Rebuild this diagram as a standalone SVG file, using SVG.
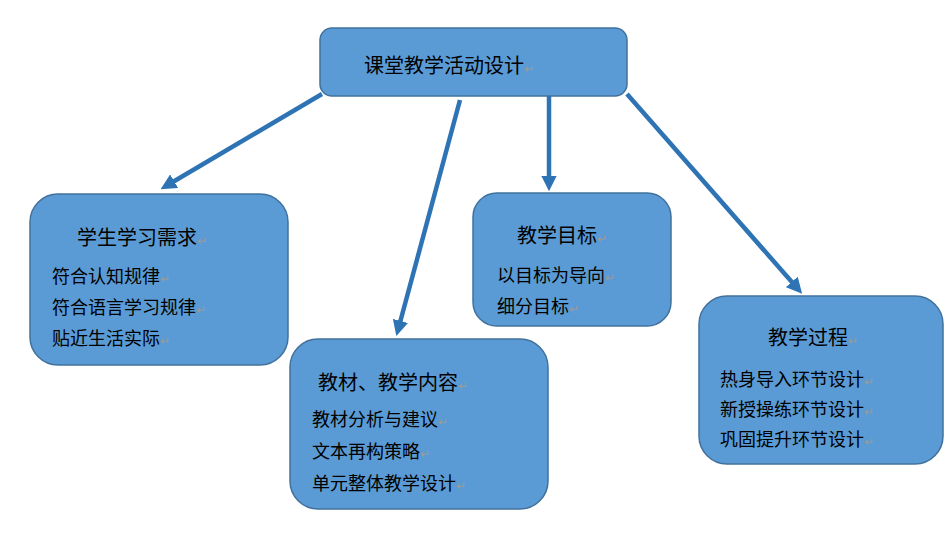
<svg xmlns="http://www.w3.org/2000/svg" width="950" height="535" viewBox="0 0 950 535">
<style>
.box{fill:#5b9bd5;stroke:#41719c;stroke-width:1.5}
text{font-family:"Noto Sans CJK SC","Liberation Sans",sans-serif;fill:#000}
.t{font-size:20px}
.l{font-size:18px}
.m{fill:#9a9a9a;font-size:12px}
.c{stroke:#2e74b5;stroke-width:4.5;fill:none;marker-end:url(#ah)}
</style>
<defs><marker id="ah" viewBox="0 0 10 10" refX="6" refY="5" markerWidth="3.5" markerHeight="3.5" orient="auto"><path d="M0,0L10,5L0,10z" fill="#2e74b5"/></marker></defs>
<rect width="950" height="535" fill="#fff"/>
<g id="connectors">
<line class="c" x1="322" y1="94" x2="166" y2="186"/>
<line class="c" x1="460" y1="100" x2="398" y2="330"/>
<line class="c" x1="549" y1="96" x2="549" y2="185"/>
<line class="c" x1="627" y1="94" x2="798" y2="289"/>
</g>
<g id="root"><rect class="box" x="320" y="28" width="307" height="68" rx="12"/>
<text class="t" x="364" y="73">课堂教学活动设计<tspan class="m">↵</tspan></text></g>
<g id="n1"><rect class="box" x="30" y="194" width="258" height="171" rx="28"/>
<text class="t" x="77" y="245">学生学习需求<tspan class="m">↵</tspan></text>
<text class="l" x="52" y="283">符合认知规律<tspan class="m">↵</tspan></text>
<text class="l" x="52" y="314">符合语言学习规律<tspan class="m">↵</tspan></text>
<text class="l" x="52" y="345">贴近生活实际<tspan class="m">↵</tspan></text></g>
<g id="n2"><rect class="box" x="290" y="339" width="258" height="170" rx="28"/>
<text class="t" x="318" y="390">教材、教学内容<tspan class="m">↵</tspan></text>
<text class="l" x="312" y="426">教材分析与建议<tspan class="m">↵</tspan></text>
<text class="l" x="312" y="458">文本再构策略<tspan class="m">↵</tspan></text>
<text class="l" x="312" y="490">单元整体教学设计<tspan class="m">↵</tspan></text></g>
<g id="n3"><rect class="box" x="473" y="193" width="198" height="133" rx="24"/>
<text class="t" x="517" y="243">教学目标<tspan class="m">↵</tspan></text>
<text class="l" x="497" y="282">以目标为导向<tspan class="m">↵</tspan></text>
<text class="l" x="497" y="313">细分目标<tspan class="m">↵</tspan></text></g>
<g id="n4"><rect class="box" x="699" y="296" width="244" height="168" rx="28"/>
<text class="t" x="768" y="345">教学过程<tspan class="m">↵</tspan></text>
<text class="l" x="720" y="386">热身导入环节设计<tspan class="m">↵</tspan></text>
<text class="l" x="720" y="416">新授操练环节设计<tspan class="m">↵</tspan></text>
<text class="l" x="720" y="446">巩固提升环节设计<tspan class="m">↵</tspan></text></g>
</svg>
